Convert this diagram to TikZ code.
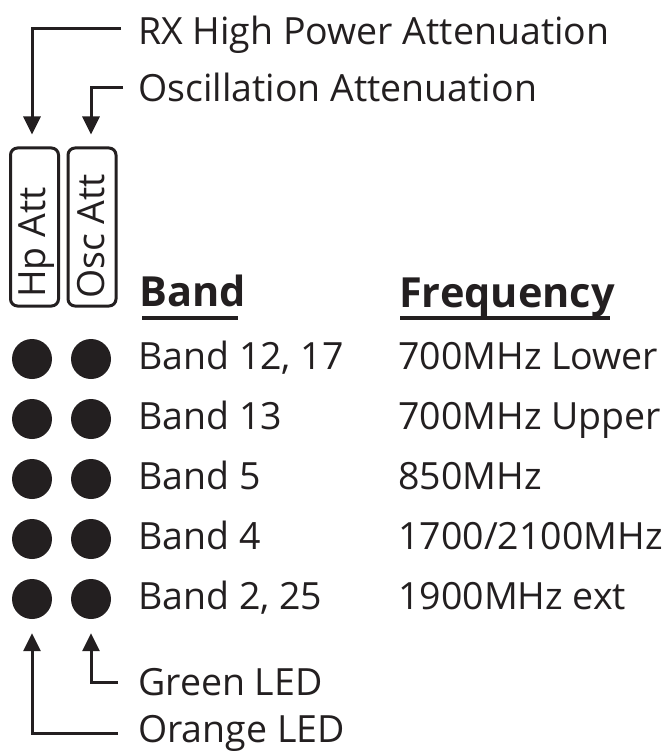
\documentclass[tikz,border=0pt]{standalone}
\usepackage{fontspec}
\setmainfont{Open Sans}
\usetikzlibrary{arrows.meta}
\definecolor{ink}{HTML}{231F20}
\begin{document}
\begin{tikzpicture}[x=1pt,y=-1pt,
  lbl/.style={anchor=base west,inner sep=0pt,text=ink,font=\fontsize{37.5}{40}\selectfont},
  hdr/.style={anchor=base west,inner sep=0pt,text=ink,font=\fontsize{41.5}{50}\selectfont\bfseries},
  led/.style={circle,fill=ink,minimum size=40pt,inner sep=0pt},
  attbox/.style={draw=ink,line width=3pt,rounded corners=7pt,minimum width=48pt,minimum height=158pt,inner sep=0pt},
  arr/.style={draw=ink,line width=3pt,-{Triangle[width=17pt,length=18pt]}},
  uline/.style={draw=ink,line width=4pt}]
\useasboundingbox (0,0) rectangle (664,751);
% top labels
\node[lbl] (rx) at (138,45) {RX High Power Attenuation};
\node[lbl] (osc) at (138,102) {Oscillation Attenuation};
\coordinate (rxs) at (121,29);
\coordinate (oscs) at (123,88);
% boxes
\node[attbox] (hpbox) at (34.5,227) {};
\node[attbox] (oscbox) at (92,227) {};
\node[lbl,rotate=90] (hpt) at (45,298) {Hp Att};
\node[lbl,rotate=90] (osct) at (104,299) {Osc Att};
\draw[arr,shorten >=12pt] (rxs) -| ([xshift=-2.5pt]hpbox.north);
\draw[arr,shorten >=12pt] (oscs) -| ([xshift=-1pt]oscbox.north);
% headers
\node[hdr] (band) at (139,306) {Band};
\node[hdr] (freq) at (399,307) {Frequency};
\draw[uline] (142,318) -- (238,318);
\draw[uline] (400,318) -- (610,318);
% rows
\foreach \i/\b/\f in {1/{Band 12, 17}/{700MHz Lower},2/{Band 13}/{700MHz Upper},3/{Band 5}/{850MHz},4/{Band 4}/{1700/2100MHz},5/{Band 2, 25}/{1900MHz ext}}{
  \node[led] (o\i) at (32,{299+60*\i}) {};
  \node[led] (g\i) at (91,{299+60*\i}) {};
  \node[lbl] (b\i) at (138,{309+60*\i}) {\b};
  \node[lbl] (f\i) at (398,{309+60*\i}) {\f};
}
% bottom labels
\node[lbl] (green) at (138,695) {Green LED};
\node[lbl] (orange) at (138,742) {Orange LED};
\coordinate (gs) at (118,682);
\coordinate (os) at (118,733);
\draw[arr,shorten >=14pt] (gs) -| (g5.south);
\draw[arr,shorten >=14pt] (os) -| (o5.south);
\end{tikzpicture}
\end{document}
